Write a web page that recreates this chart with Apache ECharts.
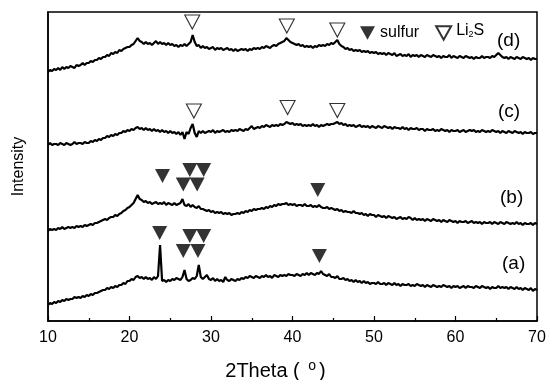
<!DOCTYPE html>
<html>
<head>
<meta charset="utf-8">
<script src="https://cdn.jsdelivr.net/npm/echarts@6/dist/echarts.min.js"></script>
<style>
  html, body { margin: 0; padding: 0; background: #fff; }
  #xrdChart { width: 547px; height: 380px; }
</style>
</head>
<body>
<div id="xrdChart"></div>
<script>
// 2Theta sampling of the traces (degrees)
const thetaStart = 10
const thetaStep = 0.25
const xTicks = [10, 20, 30, 40, 50, 60, 70]

// intensity, offset traces (a) .. (d), 10 -> 70 deg
const curveD = [
  249, 251, 250, 252, 251, 253, 251, 254, 252, 254, 253, 255, 254, 253, 256, 255,
  256, 258, 256, 258, 258, 260, 259, 261, 261, 263, 262, 264, 264, 266, 265, 268,
  267, 269, 268, 271, 270, 272, 273, 274, 274, 276, 277, 280, 283, 280, 279, 277,
  279, 277, 278, 276, 278, 280, 277, 279, 277, 278, 276, 278, 276, 277, 275, 276,
  274, 276, 275, 277, 275, 277, 279, 286, 279, 275, 276, 273, 275, 273, 274, 272,
  273, 274, 271, 273, 272, 273, 271, 272, 273, 271, 272, 270, 272, 270, 271, 272,
  271, 272, 270, 272, 271, 273, 272, 273, 272, 274, 273, 275, 274, 273, 275, 276,
  275, 277, 278, 279, 280, 283, 281, 279, 278, 277, 276, 277, 275, 276, 274, 275,
  274, 275, 273, 275, 274, 276, 275, 276, 275, 277, 276, 278, 277, 279, 281, 277,
  275, 274, 272, 273, 271, 272, 270, 271, 270, 271, 269, 270, 269, 270, 268, 269,
  268, 269, 267, 268, 267, 268, 266, 268, 267, 266, 268, 265, 266, 267, 265, 266,
  265, 267, 264, 266, 265, 266, 264, 266, 265, 264, 266, 265, 264, 266, 265, 264,
  265, 263, 265, 264, 264, 266, 263, 265, 264, 263, 265, 264, 263, 265, 264, 263,
  264, 262, 264, 263, 263, 265, 263, 264, 264, 263, 265, 264, 266, 268, 266, 264,
  263, 264, 262, 264, 263, 262, 264, 263, 262, 264, 263, 262, 263, 261, 263, 262,
  262
]
const curveC = [
  176, 178, 176, 177, 177, 176, 178, 177, 176, 178, 177, 176, 177, 179, 177, 178,
  178, 177, 179, 178, 178, 180, 179, 181, 180, 182, 181, 183, 183, 185, 184, 186,
  185, 187, 186, 188, 188, 190, 189, 191, 190, 192, 191, 193, 194, 192, 193, 191,
  193, 191, 192, 190, 192, 190, 191, 189, 191, 189, 190, 188, 190, 188, 189, 187,
  189, 186, 189, 182, 189, 187, 193, 197, 188, 184, 190, 188, 190, 188, 189, 190,
  189, 191, 188, 190, 189, 190, 191, 189, 190, 189, 191, 190, 191, 190, 192, 191,
  190, 192, 191, 193, 195, 192, 193, 194, 193, 195, 194, 196, 195, 194, 196, 195,
  196, 195, 197, 196, 197, 199, 198, 197, 198, 196, 197, 196, 197, 195, 196, 195,
  196, 195, 197, 195, 196, 194, 196, 195, 196, 197, 196, 197, 197, 198, 199, 197,
  198, 196, 197, 195, 196, 195, 196, 194, 195, 196, 194, 195, 194, 195, 193, 195,
  194, 193, 195, 194, 193, 195, 194, 193, 194, 192, 194, 193, 193, 192, 194, 192,
  193, 191, 193, 192, 192, 193, 191, 192, 192, 190, 192, 191, 191, 192, 190, 191,
  190, 192, 191, 190, 191, 189, 191, 190, 190, 191, 189, 190, 191, 189, 190, 191,
  190, 191, 189, 190, 189, 191, 190, 189, 190, 189, 191, 190, 189, 190, 188, 190,
  189, 188, 190, 189, 188, 190, 189, 188, 189, 187, 189, 188, 188, 189, 187, 188,
  188
]
const curveB = [
  90, 92, 91, 92, 91, 93, 92, 94, 92, 93, 94, 93, 94, 93, 95, 94,
  95, 94, 96, 95, 96, 97, 96, 98, 98, 99, 100, 101, 102, 101, 103, 104,
  104, 106, 105, 107, 108, 110, 111, 113, 114, 116, 118, 122, 126, 122, 121, 119,
  120, 118, 119, 117, 118, 119, 117, 118, 117, 119, 116, 118, 117, 116, 118, 116,
  117, 118, 122, 116, 115, 117, 114, 116, 114, 113, 115, 112, 112, 111, 110, 111,
  109, 110, 108, 109, 108, 109, 107, 108, 107, 108, 106, 107, 107, 108, 107, 109,
  108, 110, 109, 111, 110, 112, 111, 112, 112, 113, 112, 114, 113, 115, 114, 116,
  115, 117, 116, 117, 117, 118, 116, 117, 116, 117, 115, 116, 116, 115, 117, 115,
  115, 116, 114, 115, 114, 116, 114, 113, 113, 114, 112, 113, 112, 111, 112, 110,
  111, 109, 110, 109, 109, 108, 110, 108, 108, 107, 108, 106, 107, 105, 107, 106,
  106, 104, 106, 105, 104, 105, 103, 105, 104, 103, 104, 102, 103, 104, 102, 103,
  102, 104, 103, 101, 103, 101, 102, 101, 102, 100, 102, 101, 100, 102, 101, 100,
  101, 99, 101, 100, 99, 101, 100, 99, 100, 98, 100, 99, 99, 100, 98, 99,
  100, 98, 99, 98, 99, 97, 99, 98, 98, 99, 97, 99, 98, 97, 99, 98,
  97, 99, 98, 97, 98, 97, 99, 97, 98, 96, 98, 97, 97, 98, 96, 98,
  97
]
const curveA = [
  16, 18, 17, 19, 18, 20, 19, 21, 20, 22, 21, 22, 22, 24, 23, 24,
  23, 25, 24, 26, 25, 27, 26, 28, 28, 29, 30, 31, 31, 33, 32, 34,
  33, 35, 34, 36, 36, 38, 37, 40, 40, 42, 41, 44, 45, 43, 44, 42,
  44, 42, 43, 41, 44, 42, 45, 76, 40, 41, 39, 41, 40, 42, 41, 43,
  42, 41, 44, 51, 42, 40, 41, 43, 42, 45, 56, 44, 42, 44, 46, 42,
  41, 43, 40, 42, 40, 41, 39, 44, 41, 40, 42, 41, 40, 42, 41, 43,
  42, 44, 43, 45, 44, 43, 45, 44, 43, 45, 44, 46, 44, 45, 43, 46,
  45, 44, 46, 45, 46, 45, 47, 46, 46, 45, 47, 46, 45, 47, 46, 48,
  46, 48, 47, 46, 48, 47, 50, 47, 46, 45, 47, 44, 44, 43, 45, 42,
  42, 43, 41, 42, 40, 41, 39, 41, 39, 40, 38, 40, 38, 39, 37, 38,
  38, 37, 39, 37, 37, 38, 36, 38, 37, 36, 38, 36, 37, 35, 37, 36,
  36, 37, 35, 36, 35, 37, 36, 35, 36, 34, 36, 35, 34, 36, 35, 34,
  35, 34, 36, 35, 34, 35, 33, 35, 34, 35, 33, 34, 35, 33, 35, 34,
  34, 33, 35, 34, 33, 35, 34, 33, 34, 32, 34, 33, 33, 35, 33, 34,
  33, 34, 32, 34, 33, 32, 34, 32, 33, 31, 33, 32, 31, 33, 30, 32,
  31
]

// peak markers [2Theta, height]
const sulfurMarksA = [[23.7, 88], [26.6, 70], [27.4, 85], [28.4, 70], [29.1, 85], [43.3, 65]]
const sulfurMarksB = [[24.05, 145], [26.6, 136.5], [27.4, 151], [28.3, 136.5], [29.1, 151], [43.1, 131]]
const li2sMarksC = [[27.9, 210], [39.4, 213.5], [45.5, 210.5]]
const li2sMarksD = [[27.7, 299], [39.3, 295], [45.5, 291]]

const traceLabels = [
  { text: '(d)', left: 497, top: 31 },
  { text: '(c)', left: 498, top: 102 },
  { text: '(b)', left: 500, top: 188 },
  { text: '(a)', left: 502, top: 254 }
]

const font = 'Arial, "Liberation Sans", Helvetica, sans-serif'
const downTriangle = 'path://M0,0 L20,0 L10,18 Z'

function toPairs(values) {
  return values.map((v, i) => [thetaStart + i * thetaStep, v])
}

function traceSeries(values) {
  return {
    type: 'line',
    data: toPairs(values),
    showSymbol: false,
    lineStyle: { color: '#000', width: 2.2 },
    silent: true,
    z: 2
  }
}

function markSeries(name, marks, filled) {
  return {
    name: name,
    type: 'scatter',
    data: marks,
    symbol: downTriangle,
    symbolSize: [15, 14],
    itemStyle: filled
      ? { color: '#000' }
      : { color: '#fff', borderColor: '#000', borderWidth: 1.1 },
    z: 3
  }
}

const chart = echarts.init(document.getElementById('xrdChart'), null, { renderer: 'canvas' })
chart.setOption({
  animation: false,
  backgroundColor: '#fff',
  grid: {
    left: 48,
    right: 10,
    top: 12,
    bottom: 59,
    outerBoundsMode: 'none',
    show: true,
    borderColor: '#000',
    borderWidth: 1.5
  },
  legend: {
    left: 360,
    top: 23,
    padding: 0,
    itemGap: 16,
    itemWidth: 15,
    itemHeight: 14,
    icon: downTriangle,
    data: ['sulfur', 'Li2S'],
    formatter: function (name) {
      return name === 'Li2S' ? '{up|Li}{sub|2}{up|S}' : name
    },
    textStyle: {
      fontFamily: font,
      fontSize: 16,
      color: '#000',
      rich: {
        up: { fontFamily: font, fontSize: 16, color: '#000', padding: [0, 0, 4, 0] },
        sub: { fontFamily: font, fontSize: 9, color: '#000', padding: [4, 0, 0, 0] }
      }
    }
  },
  xAxis: {
    type: 'value',
    min: xTicks[0],
    max: xTicks[xTicks.length - 1],
    interval: 10,
    name: '2Theta ( {sup|o})',
    nameLocation: 'middle',
    nameGap: 38,
    nameTextStyle: {
      fontFamily: font,
      fontSize: 20,
      color: '#000',
      padding: [0, 34, 0, 0],
      rich: {
        sup: { fontFamily: font, fontSize: 14, color: '#000', padding: [0, 3, 11, 3] }
      }
    },
    axisLine: { onZero: false, lineStyle: { color: '#000', width: 1.5 } },
    axisTick: { inside: true, length: 5, lineStyle: { color: '#000', width: 1.2 } },
    minorTick: { show: true, splitNumber: 2, length: 3, lineStyle: { color: '#000', width: 1.2 } },
    axisLabel: { margin: 9, fontFamily: font, fontSize: 16, color: '#000' },
    splitLine: { show: false }
  },
  yAxis: {
    type: 'value',
    min: 0,
    max: 309,
    name: 'Intensity',
    nameLocation: 'middle',
    nameGap: 21,
    nameTextStyle: { fontFamily: font, fontSize: 16, color: '#000' },
    axisLine: { show: true, lineStyle: { color: '#000', width: 1.5 } },
    axisTick: { show: false },
    axisLabel: { show: false },
    splitLine: { show: false }
  },
  graphic: traceLabels.map((l) => ({
    type: 'text',
    left: l.left,
    top: l.top,
    style: { text: l.text, fontFamily: font, fontSize: 19, fill: '#000' }
  })),
  series: [
    traceSeries(curveA),
    traceSeries(curveB),
    traceSeries(curveC),
    traceSeries(curveD),
    markSeries('sulfur', sulfurMarksA, true),
    markSeries('sulfur', sulfurMarksB, true),
    markSeries('Li2S', li2sMarksC, false),
    markSeries('Li2S', li2sMarksD, false)
  ]
})
</script>
</body>
</html>
